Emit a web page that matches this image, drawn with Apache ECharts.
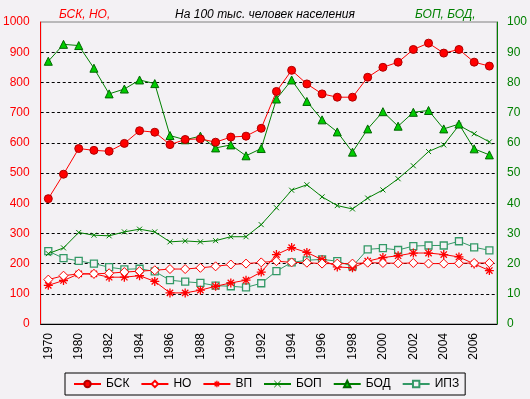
<!DOCTYPE html>
<html>
<head>
<meta charset="utf-8">
<script src="https://cdn.jsdelivr.net/npm/echarts@6/dist/echarts.min.js"></script>
<style>
html,body{margin:0;padding:0;background:#f3f1f4;}
#c{width:530px;height:399px;}
</style>
</head>
<body>
<div id="c"></div>
<script>
var years = ['1970','1975','1980','1981','1982','1983','1984','1985','1986','1987','1988','1989','1990','1991','1992','1993','1994','1995','1996','1997','1998','1999','2000','2001','2002','2003','2004','2005','2006','2007'];
// left axis (per 100k): БСК, НО, ВП
var bsk = [415,496,581,575,572,598,640,635,594,611,613,602,619,622,648,770,840,795,762,751,751,817,850,867,909,930,897,909,867,854];
var no  = [147,160,166,166,168,172,175,178,182,182,186,191,197,200,204,208,204,203,200,200,200,203,202,201,202,200,200,201,202,202];
var vp  = [128,144,166,166,155,155,160,141,103,103,112,125,136,145,172,230,253,237,213,189,186,208,220,226,235,235,230,222,199,177];
// right axis: БОП, БОД, ИПЗ
var bop = [23.3,25.2,30.3,29.4,29.2,30.5,31.4,30.5,27.2,27.5,27.2,27.6,28.9,28.9,32.9,38.5,44.3,46.1,42.1,39.2,38.1,41.7,44.4,48.1,52.4,57.1,59.3,65.8,63.0,60.3];
var bod = [87.0,92.6,92.2,84.7,76.2,77.8,80.8,79.6,62.4,61.0,62.2,58.3,59.3,55.7,58.1,74.5,80.8,73.7,67.6,63.6,56.9,64.6,70.3,65.5,70.1,70.7,64.6,66.2,58.0,56.0];
var ipz = [24.1,21.8,20.9,20.0,18.8,18.1,18.3,17.4,14.5,14.0,13.6,12.7,12.5,12.1,13.5,17.5,20.4,21.1,21.4,20.8,19.1,24.7,25.1,24.5,25.8,26.0,26.0,27.4,25.4,24.4];
var leftTicks = [0,100,200,300,400,500,600,700,800,900,1000];
var rightTicks = [0,10,20,30,40,50,60,70,80,90,100];

var FONT = '"Liberation Sans", Arial, sans-serif';
var RED = '#ff0000', GREEN = '#008000';
var asterisk = 'path://M5,0L5,10M0,5L10,5M1.5,1.5L8.5,8.5M8.5,1.5L1.5,8.5';
var cross = 'path://M0,0L10,10M10,0L0,10';
function plain(v){ return String(v); }

var chart = echarts.init(document.getElementById('c'), null, {renderer:'canvas'});
chart.setOption({
  backgroundColor: '#f3f1f4',
  animation: false,
  textStyle: {fontFamily: FONT},
  title: [
    {text: 'БСК, НО,', left: 54, top: 4, textStyle: {color: RED, fontStyle: 'italic', fontWeight: 'normal', fontSize: 12, fontFamily: FONT}},
    {text: 'На 100 тыс. человек населения', left: 'center', top: 4, textStyle: {color: '#000', fontStyle: 'italic', fontWeight: 'normal', fontSize: 12, fontFamily: FONT}},
    {text: 'БОП, БОД,', left: 410, top: 4, textStyle: {color: GREEN, fontStyle: 'italic', fontWeight: 'normal', fontSize: 12, fontFamily: FONT}}
  ],
  grid: {left: 40, right: 33, top: 22, bottom: 75, show: true, borderColor: '#808080', borderWidth: 1, backgroundColor: 'transparent'},
  legend: {
    left: 65, top: 373, padding: [5, 6, 5, 8],
    borderColor: '#000', borderWidth: 1,
    itemWidth: 27, itemHeight: 8, itemGap: 11,
    textStyle: {fontSize: 12, color: '#000', fontFamily: FONT},
    data: ['БСК','НО',
      {name: 'ВП', itemStyle: {color: RED, borderColor: RED, borderWidth: 1.3}},
      {name: 'БОП', itemStyle: {color: GREEN, borderColor: GREEN, borderWidth: 1}},
      'БОД','ИПЗ']
  },
  xAxis: {
    type: 'category', data: years, boundaryGap: true,
    axisLine: {lineStyle: {color: '#000', width: 1}},
    axisTick: {show: false},
    axisLabel: {interval: 1, rotate: 90, color: '#000', fontSize: 12, margin: 9, fontFamily: FONT},
    splitLine: {show: false}
  },
  yAxis: [
    {type: 'value', min: leftTicks[0], max: leftTicks[leftTicks.length-1], interval: 100,
     axisLine: {show: true, lineStyle: {color: RED, width: 1}},
     axisTick: {show: false},
     axisLabel: {color: RED, fontSize: 12, margin: 11, fontFamily: FONT, formatter: plain},
     splitLine: {show: true, showMinLine: false, showMaxLine: false, lineStyle: {color: '#000', type: [3, 2.5], width: 1}}},
    {type: 'value', min: rightTicks[0], max: rightTicks[rightTicks.length-1], interval: 10, position: 'right',
     axisLine: {show: true, lineStyle: {color: GREEN, width: 1}},
     axisTick: {show: false},
     axisLabel: {color: GREEN, fontSize: 12, margin: 10, fontFamily: FONT, formatter: plain},
     splitLine: {show: false}}
  ],
  series: [
    {name: 'ИПЗ', type: 'line', yAxisIndex: 1, data: ipz, symbol: 'rect', symbolSize: 7,
     lineStyle: {color: '#339966', width: 1}, itemStyle: {color: '#f3f1f4', borderColor: '#339966', borderWidth: 1.3}, z: 2},
    {name: 'БОП', type: 'line', yAxisIndex: 1, data: bop, symbol: cross, symbolSize: 5,
     lineStyle: {color: GREEN, width: 1}, itemStyle: {color: GREEN, borderColor: GREEN, borderWidth: 1}, z: 3},
    {name: 'ВП', type: 'line', yAxisIndex: 0, data: vp, symbol: asterisk, symbolSize: 9,
     lineStyle: {color: RED, width: 1}, itemStyle: {color: RED, borderColor: RED, borderWidth: 1.3}, z: 4},
    {name: 'НО', type: 'line', yAxisIndex: 0, data: no, symbol: 'diamond', symbolSize: 9,
     lineStyle: {color: RED, width: 1}, itemStyle: {color: '#ffffff', borderColor: RED, borderWidth: 1}, z: 5},
    {name: 'БОД', type: 'line', yAxisIndex: 1, data: bod, symbol: 'triangle', symbolSize: 8,
     lineStyle: {color: GREEN, width: 1}, itemStyle: {color: '#00cc00', borderColor: '#006600', borderWidth: 1}, z: 6},
    {name: 'БСК', type: 'line', yAxisIndex: 0, data: bsk, symbol: 'circle', symbolSize: 8,
     lineStyle: {color: RED, width: 1}, itemStyle: {color: RED, borderColor: '#b00000', borderWidth: 1}, z: 7}
  ]
});
</script>
</body>
</html>
